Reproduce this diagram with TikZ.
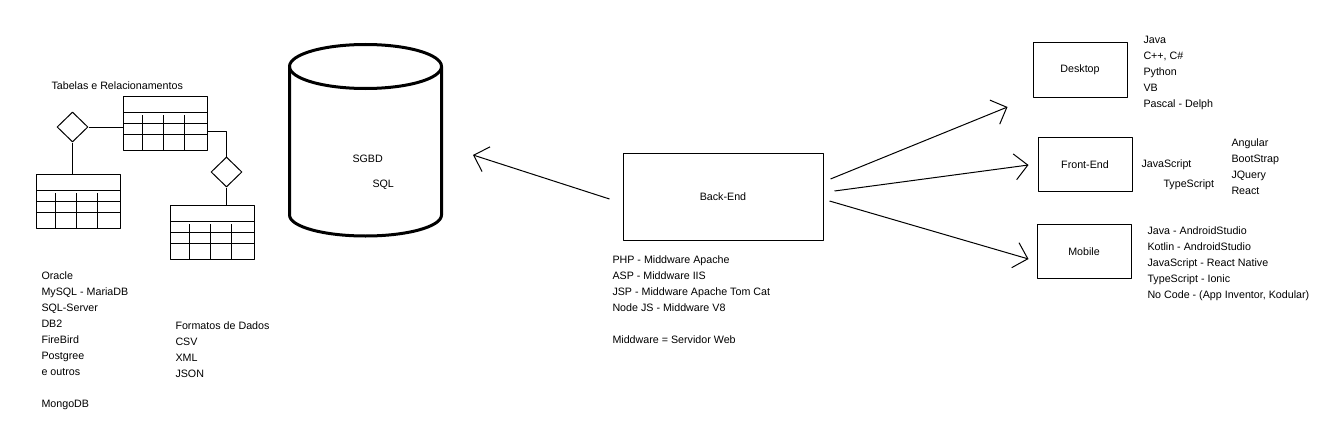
\documentclass[tikz,border=0pt]{standalone}
\usepackage{fontspec}
\setmainfont{Liberation Sans}
\usetikzlibrary{arrows.meta}
\usetikzlibrary{shapes.geometric}
\usetikzlibrary{calc}
\tikzset{t/.style={inner sep=0pt, anchor=base west, align=left}}
\tikzset{bx/.style={draw, minimum width=94pt, minimum height=54pt, inner sep=0pt}}
\tikzset{rel/.style={draw, diamond, minimum width=31pt, minimum height=30pt, inner sep=0pt}}
\tikzset{tab/.style={draw, minimum width=84pt, minimum height=54pt, inner sep=0pt,
    path picture={\draw
      ($(path picture bounding box.north west)+(0,16)$) -- +(84,0)
      ($(path picture bounding box.north west)+(0,27)$) -- +(84,0)
      ($(path picture bounding box.north west)+(0,38)$) -- +(84,0)
      ($(path picture bounding box.north west)+(19,19)$) -- +(0,35)
      ($(path picture bounding box.north west)+(40,19)$) -- +(0,35)
      ($(path picture bounding box.north west)+(61,19)$) -- +(0,35);}}}
\tikzset{arr/.style={-{Straight Barb[length=13pt,width=26pt]}}}

\begin{document}
\begin{tikzpicture}[line join=round, line width=1pt, x=1pt, y=-1pt]
          \useasboundingbox (0,0) rectangle (1336,436);
          % tabelas
          \node (T1) at (165,123) [tab] {};
          \node (T2) at (78,201) [tab] {};
          \node (T3) at (212.5,232) [tab] {};
          \node (R1) at (72.5,127) [rel] {};
          \node (R2) at (226.5,172) [rel] {};
          \draw (R1.east) -- (R1.east -| T1.west);
          \draw (R1.south) -- (R1.south |- T2.north);
          \draw ([yshift=-8pt]T1.east) -| (R2.north);
          \draw (R2.south) -- (R2.south |- T3.north);
          % banco
          \draw[line width=3pt] (365.5,66.5) ellipse [x radius=76, y radius=22];
          \draw[line width=3pt] (289.5,66.5) -- (289.5,215)
            arc [start angle=180, end angle=0, x radius=76, y radius=21] -- (441.5,66.5);
          \coordinate (DBr) at (473,155);
          % listas: base = linha de base da ultima linha
          \begin{scope}[font=\fontsize{10.7}{16}\selectfont]
            \node (tr) at (51,89) [t] {Tabelas e Relacionamentos};
            \node (sg) at (352,162) [t] {SGBD};
            \node (sq) at (372,187) [t] {SQL};
            \node (bd) at (41,407) [t] {Oracle\\MySQL - MariaDB\\SQL-Server\\DB2\\FireBird\\Postgree\\e outros\\[16pt]MongoDB};
            \node (fm) at (175,377.5) [t] {Formatos de Dados\\CSV\\XML\\JSON};
            \node (BE) at (723,196.5) [bx, minimum width=200pt, minimum height=87pt] {Back-End};
            \node (mw) at (612,343) [t] {PHP - Middware Apache\\ASP - Middware IIS\\JSP - Middware Apache Tom Cat\\Node JS - Middware V8\\[16pt]Middware = Servidor Web};
            \node (Dk) at (1080,70) [bx] {Desktop};
            \node (FE) at (1085,164.5) [bx] {Front-End};
            \node (Mb) at (1084,251.5) [bx] {Mobile};
            \node (dl) at (1143,107) [t] {Java\\C++, C\#\\Python\\VB\\Pascal - Delph};
            \node (js) at (1141,167) [t] {JavaScript};
            \node (ts) at (1163,187) [t] {TypeScript};
            \node (fw) at (1231,194.7) [t] {Angular\\BootStrap\\JQuery\\React};
            \node (ml) at (1147,298) [t] {Java - AndroidStudio\\Kotlin - AndroidStudio\\JavaScript - React Native\\TypeScript - Ionic\\No Code - (App Inventor, Kodular)};
          \end{scope}
          % setas
          \draw[arr] ([shift={(-13,2.5)}]BE.west) -- (DBr);
          \draw[arr] ([shift={(7,-17.5)}]BE.east) -- ([shift={(-25,37)}]Dk.west);
          \draw[arr] ([shift={(11,-5.5)}]BE.east) -- ([shift={(-9,0.5)}]FE.west);
          \draw[arr] ([shift={(6,4.5)}]BE.east) -- ([shift={(-8,7.5)}]Mb.west);
        \end{tikzpicture}
\end{document}
